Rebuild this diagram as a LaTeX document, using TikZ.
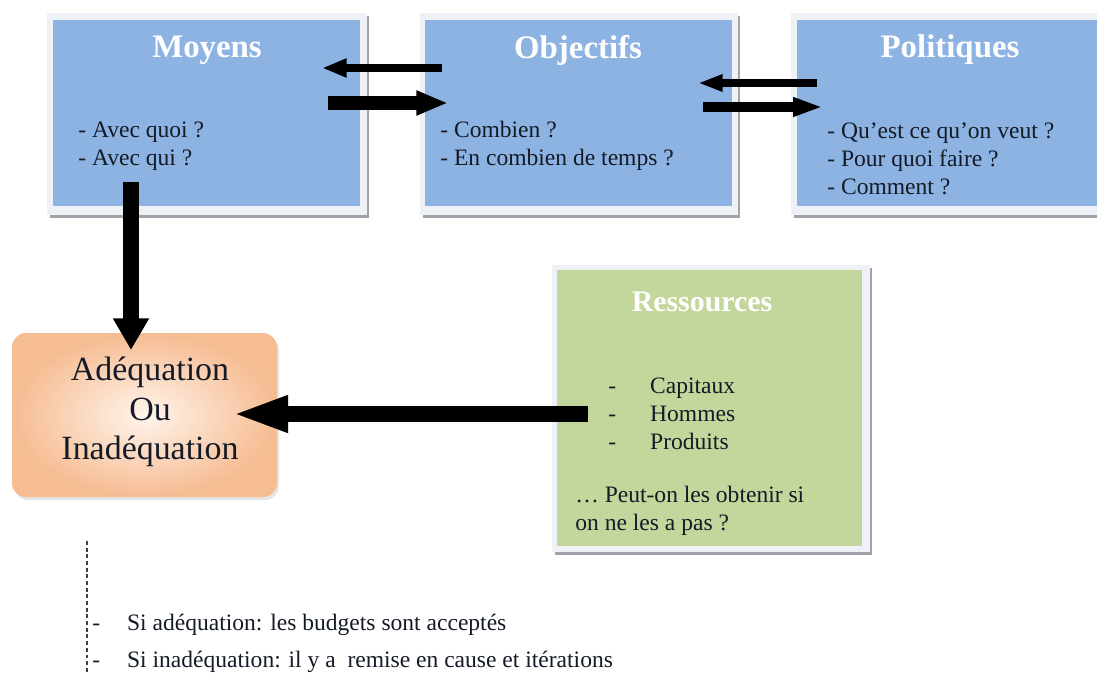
\documentclass[tikz,border=0pt]{standalone}
\usepackage{fontspec}
\setmainfont{Liberation Serif}
\usetikzlibrary{arrows.meta,fit,calc}
\definecolor{boxblue}{HTML}{8DB3E2}
\definecolor{boxgreen}{HTML}{C3D69B}
\definecolor{framec}{HTML}{EEF2F7}
\definecolor{shadowc}{HTML}{A0A4AA}
\definecolor{txt}{HTML}{141A26}
\definecolor{orangeout}{HTML}{F6BC92}
\definecolor{orangein}{HTML}{FFF4EC}
\begin{document}
\begin{tikzpicture}[x=0.02cm,y=-0.02cm,
  shadowbox/.style={fill=shadowc},
  framebox/.style={fill=framec},
  bluebox/.style={fill=boxblue,draw=none,inner sep=0pt},
  greenbox/.style={fill=boxgreen,draw=none,inner sep=0pt},
  ttl/.style={font=\fontsize{18.7}{22}\selectfont\bfseries,text=white,inner sep=0pt},
  body/.style={font=\fontsize{13.4}{15.9}\selectfont,text=txt,align=left,inner sep=0pt,anchor=west},
  bigtext/.style={font=\fontsize{19.3}{22.6}\selectfont,text=txt,align=center,inner sep=0pt},
  arr/.style={draw=black,line cap=butt}]
\useasboundingbox (0,0) rectangle (1097,679);

% --- Moyens
\fill[shadowbox] (50,16) rectangle (369,218);
\fill[framebox] (47,13) rectangle (367,215);
\node[bluebox, fit={(53,20) (360,206)}] (moy) {};
\node[ttl] (moyT) at (207,50) {Moyens};
\node[body] (moyB) at (78,146) {- Avec quoi ?\\- Avec qui ?};

% --- Objectifs
\fill[shadowbox] (423,16) rectangle (740,218);
\fill[framebox] (420,13) rectangle (738,215);
\node[bluebox, fit={(425,20) (732,206)}] (obj) {};
\node[ttl] (objT) at (578,50) {Objectifs};
\node[body] (objB) at (440,146) {- Combien ?\\- En combien de temps ?};

% --- Politiques
\fill[shadowbox] (794,16) rectangle (1097,218);
\fill[framebox] (791,13) rectangle (1097,215);
\node[bluebox, fit={(797,20) (1097,206)}] (pol) {};
\node[ttl] (polT) at (950,50) {Politiques};
\node[body] (polB) at (827,159) {- Qu’est ce qu’on veut ?\\- Pour quoi faire ?\\- Comment ?};

% --- Ressources
\fill[shadowbox] (555,268) rectangle (872,555);
\fill[framebox] (552,265) rectangle (870,552);
\node[greenbox, fit={(557,270) (862,546)}] (res) {};
\node[ttl,font=\fontsize{17}{20}\selectfont\bfseries] (resT) at (702,302) {Ressources};
\node[body] (resL) at (608,414) {\makebox[23.8pt][l]{-}Capitaux\\\makebox[23.8pt][l]{-}Hommes\\\makebox[23.8pt][l]{-}Produits};
\node[body] (resQ) at (575,511) {… Peut-on les obtenir si\\on ne les a pas ?};

% --- Adequation
\fill[black!10,rounded corners=8pt] (14,336) rectangle (279,500);
\shade[rounded corners=8pt,inner color=orangein,outer color=orangeout] (12,333) rectangle (277,497);
\node[inner sep=0pt,fit={(12,333) (277,497)}] (ade) {};
\node[bigtext] (adeT) at (150,412) {Adéquation\\Ou\\Inadéquation};

% --- Arrow end points
\coordinate (a1s) at (442,68);  \coordinate (a1e) at (322,68);
\coordinate (a2s) at (328,103); \coordinate (a2e) at (448,103);
\coordinate (a3s) at (817,83);  \coordinate (a3e) at (698,83);
\coordinate (a4s) at (703,107); \coordinate (a4e) at (823,107);
\coordinate (a5s) at (131,182); \coordinate (a5e) at (131,350);
\coordinate (a6s) at (588,414); \coordinate (a6e) at (232,414);

\draw[arr,line width=4.5pt,-{Triangle[length=14pt,width=10pt]}] (a1s) -- (a1e);
\draw[arr,line width=7.4pt,-{Triangle[length=18pt,width=13pt]}] (a2s) -- (a2e);
\draw[arr,line width=4.5pt,-{Triangle[length=14pt,width=9pt]}] (a3s) -- (a3e);
\draw[arr,line width=5.7pt,-{Triangle[length=17pt,width=10pt]}] (a4s) -- (a4e);
\draw[arr,line width=9.6pt,-{Triangle[length=18pt,width=19.3pt]}] (a5s) -- (a5e);
\draw[arr,line width=9.6pt,-{Triangle[length=32pt,width=19pt]}] (a6s) -- (a6e);

% --- Bottom notes
\coordinate (dTop) at (87,541); \coordinate (dBot) at (87,672);
\draw[line width=0.7pt,black!75,dash pattern=on 2.2pt off 1.6pt] (dTop) -- (dBot);
\node[body] (n1) at (92,625) {\makebox[19.8pt][l]{-}Si adéquation: les budgets sont acceptés};
\node[body] (n2) at (92,662) {\makebox[19.8pt][l]{-}Si inadéquation: il y a\ \ remise en cause et itérations};
\end{tikzpicture}
\end{document}
